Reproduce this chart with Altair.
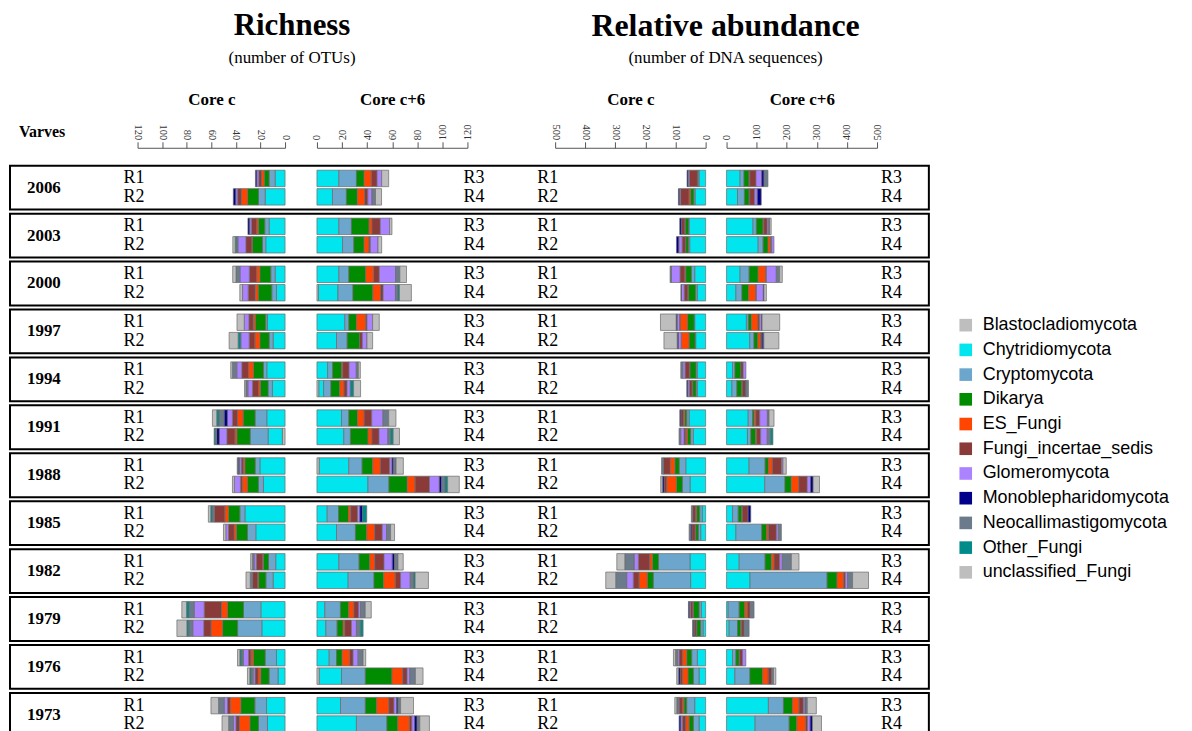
import altair as alt
import pandas as pd

YEARS = ["2006", "2003", "2000", "1997", "1994", "1991", "1988", "1985", "1982", "1979", "1976", "1973"]
CATEGORIES = ["Blastocladiomycota", "Chytridiomycota", "Cryptomycota", "Dikarya", "ES_Fungi",
              "Fungi_incertae_sedis", "Glomeromycota", "Monoblepharidomycota",
              "Neocallimastigomycota", "Other_Fungi", "unclassified_Fungi"]
COLORS = ["#BEBEBE", "#00E5EE", "#6CA6CD", "#008B00", "#FF4500", "#8B3A3A",
          "#AB82FF", "#00008B", "#6C7B8B", "#008B8B", "#BEBEBE"]

# rows: (year, replicate) in YEARS order, two replicates each; columns follow CATEGORIES
RICH_C = [
    [0, 8.1, 4.9, 4.0, 2.2, 2.2, 1.6, 1.1, 0, 0, 0],
    [0, 16.2, 5.4, 8.9, 5.1, 3.0, 1.5, 2.0, 0, 0, 0],
    [0, 13.0, 3.5, 5.1, 1.5, 4.3, 1.4, 1.4, 0, 0, 0],
    [0, 15.7, 2.7, 8.1, 0.5, 4.9, 6.5, 0, 1.0, 1.2, 1.9],
    [0, 8.1, 3.5, 8.9, 2.7, 5.9, 7.6, 0, 3.2, 0, 2.7],
    [0, 7.0, 3.8, 11.1, 2.4, 5.7, 4.6, 0, 0, 0, 2.2],
    [0, 14.3, 1.4, 8.6, 1.6, 3.5, 3.8, 0, 0, 0, 5.9],
    [0, 9.7, 3.2, 7.6, 4.1, 4.6, 6.8, 0, 0, 2.2, 7.3],
    [0, 14.9, 2.7, 8.1, 4.1, 5.4, 4.1, 0, 3.5, 0, 1.4],
    [0, 10.3, 3.5, 6.2, 1.6, 4.9, 3.8, 0, 1.6, 0, 1.1],
    [0, 14.9, 9.5, 9.7, 4.6, 4.1, 4.1, 2.7, 4.1, 1.9, 3.5],
    [2.2, 11.6, 14.6, 10.8, 1.6, 6.5, 6.2, 2.2, 1.0, 1.0, 0],
    [0, 20.5, 3.8, 8.4, 1.4, 1.6, 1.6, 0.8, 0.8, 0, 0],
    [0, 17.6, 4.1, 8.9, 4.3, 1.4, 4.9, 0, 0, 0, 1.6],
    [0, 32.7, 4.1, 9.2, 3.0, 8.6, 0, 0, 1.5, 1.4, 1.9],
    [0, 23.8, 6.8, 8.9, 1.9, 4.6, 2.2, 0, 0, 0, 1.9],
    [0, 7.6, 5.9, 4.1, 0.8, 4.9, 1.9, 0, 1.4, 0, 1.4],
    [0, 9.7, 5.9, 5.9, 0.8, 4.1, 0, 0, 1.9, 0, 3.5],
    [0, 19.7, 14.1, 13.0, 4.9, 14.1, 8.1, 0, 4.1, 2.2, 3.8],
    [0, 18.9, 19.7, 12.2, 9.5, 5.9, 8.9, 0, 3.2, 1.6, 8.1],
    [0, 7.0, 9.2, 9.7, 1.9, 1.9, 4.3, 0, 1.4, 1.4, 1.9],
    [0, 5.7, 7.3, 6.8, 2.2, 2.4, 1.6, 0, 1.6, 1.1, 1.9],
    [0, 15.1, 9.5, 11.4, 8.6, 2.2, 2.7, 0, 4.6, 0, 6.2],
    [0, 14.3, 7.3, 7.0, 8.6, 2.7, 2.2, 0, 3.8, 0, 5.4],
]
RICH_C6 = [
    [0, 17.5, 14.0, 6.1, 5.8, 4.5, 3.7, 0, 0, 0, 5.6],
    [0, 12.4, 11.1, 8.7, 5.8, 2.6, 3.2, 0, 2.9, 0, 4.8],
    [0, 17.5, 10.0, 14.0, 2.4, 6.6, 7.4, 0, 0, 0, 1.9],
    [0, 20.4, 9.0, 8.2, 4.0, 1.0, 6.1, 0, 0, 0, 2.9],
    [0, 17.5, 7.9, 13.5, 6.3, 4.5, 13.0, 0, 3.4, 0, 5.3],
    [1.2, 15.6, 11.9, 15.9, 6.1, 2.1, 9.8, 0, 2.0, 1.2, 9.5],
    [0, 22.2, 3.2, 6.1, 7.4, 1.0, 4.5, 0, 0, 0, 5.3],
    [0, 15.6, 8.5, 10.0, 0, 2.1, 3.7, 0, 0, 0, 4.5],
    [0, 8.5, 4.0, 7.1, 1.0, 5.0, 5.8, 0, 1.6, 0, 1.6],
    [1.6, 3.7, 5.8, 7.1, 3.4, 2.4, 2.6, 0, 0, 2.6, 5.6],
    [0, 19.6, 5.8, 6.9, 5.3, 6.1, 9.0, 0, 4.5, 0, 5.8],
    [0, 21.4, 5.3, 14.0, 3.2, 5.6, 7.1, 0, 2.1, 2.1, 5.0],
    [1.9, 23.5, 10.6, 8.5, 6.1, 7.4, 1.9, 1.3, 1.9, 0, 5.8],
    [0, 40.7, 16.7, 14.6, 6.3, 11.4, 7.9, 1.9, 2.6, 2.1, 9.3],
    [0, 8.2, 9.0, 7.9, 1.9, 5.3, 1.9, 2.1, 0, 3.4, 0],
    [0, 15.6, 15.1, 9.0, 6.3, 6.1, 3.4, 0, 3.2, 0, 3.2],
    [0, 17.5, 16.1, 8.5, 4.0, 7.4, 6.6, 1.9, 2.6, 0, 4.2],
    [0, 24.9, 20.6, 7.7, 9.3, 4.2, 7.7, 0, 2.6, 1.3, 10.6],
    [0, 6.3, 12.4, 6.6, 4.2, 3.7, 1.6, 0, 3.7, 0, 4.8],
    [0, 7.1, 9.0, 4.8, 1.3, 5.3, 4.0, 0, 3.2, 2.1, 0],
    [0, 9.8, 5.8, 4.5, 6.1, 2.6, 4.0, 0, 4.0, 0, 2.1],
    [1.9, 17.7, 19.0, 21.2, 8.7, 3.4, 2.1, 0, 4.5, 0, 6.1],
    [0, 18.8, 19.8, 9.0, 9.8, 4.0, 2.1, 1.1, 2.1, 0, 10.3],
    [0, 31.5, 24.3, 8.7, 9.3, 1.9, 2.1, 2.1, 2.1, 0, 7.7],
]
ABUND_C = [
    [0, 22, 3.3, 2.2, 0, 26.5, 4.4, 3.3, 0, 0, 0],
    [0, 35, 4, 11, 5.5, 27.6, 4, 3.3, 0, 0, 0],
    [0, 55, 2, 11, 1.5, 11, 0, 5.5, 0, 0, 0],
    [0, 53, 4.4, 8.8, 1, 11, 11, 7.7, 0, 0, 0],
    [0, 36.4, 11, 18.8, 3.3, 15.5, 28.7, 0, 4.4, 0, 0],
    [0, 27.6, 5.5, 24.3, 2, 12, 8.8, 2, 0, 0, 0],
    [0, 36.4, 2, 22, 24.3, 2, 8, 3.3, 0, 0, 52],
    [0, 33, 2, 20, 26.5, 0, 9, 4, 0, 0, 44],
    [0, 27.6, 4.4, 20, 2, 14.3, 7.7, 0, 6.6, 0, 0],
    [0, 27.6, 4.4, 11, 2, 8.8, 5.5, 3.3, 0, 0, 0],
    [0, 55, 7.7, 6.6, 4.4, 8.8, 0, 3.3, 0, 0, 0],
    [0, 41, 8.8, 11, 5.5, 5.5, 11, 0, 5.5, 0, 0],
    [0, 66, 22, 14.3, 15.5, 22, 0, 0, 6.6, 0, 0],
    [0, 52, 25.4, 20, 32, 8.8, 0, 5.5, 0, 0, 5.5],
    [0, 11, 8.8, 10, 3.3, 10, 0, 0, 4.4, 0, 0],
    [0, 16.5, 7.7, 8.8, 2, 11, 0, 4.4, 4.4, 0, 0],
    [0, 52, 105, 20, 8.8, 37.5, 14.3, 0, 31, 0, 26.5],
    [0, 50, 124, 20, 27.6, 18.8, 22, 0, 36.4, 0, 33],
    [0, 14.3, 7.7, 18.8, 2, 7.7, 3.3, 3.3, 0, 0, 0],
    [0, 8.8, 7.7, 13, 2, 6.6, 0, 3.3, 2, 0, 0],
    [0, 27.6, 18.8, 16.5, 14.3, 11, 5.5, 0, 6.6, 0, 6.6],
    [0, 22, 18.8, 17.7, 18.8, 7.7, 0, 5.5, 0, 0, 5.5],
    [0, 36.4, 26.5, 8.8, 5.5, 11, 3.3, 0, 4.4, 0, 6.6],
    [0, 22, 18.8, 14.3, 11, 11, 5.5, 5.5, 0, 0, 0],
]
ABUND_C6 = [
    [0, 45, 13, 16.5, 3.3, 20, 19, 7.7, 13, 0, 0],
    [0, 36.4, 23, 15.5, 2, 16.5, 8.8, 13, 0, 0, 0],
    [0, 88, 11, 22, 3.3, 11, 5.5, 2, 0, 0, 5.5],
    [0, 105, 16.5, 16.5, 8.8, 3, 7.7, 0, 0, 0, 0],
    [0, 45, 30, 30, 25.4, 2, 33, 0, 11, 0, 8.8],
    [0, 31, 20, 22, 24.3, 2, 23, 2, 0, 0, 8],
    [0, 66, 6.6, 10, 22, 5.5, 6, 2, 0, 0, 58.5],
    [0, 77, 14, 13, 8.8, 5.5, 0, 5.5, 0, 0, 50],
    [0, 20, 7.7, 20, 0, 7.7, 8.8, 0, 0, 0, 0],
    [0, 17.7, 16.5, 16.5, 2, 10, 0, 2, 8, 0, 0],
    [0, 72, 14.3, 5.5, 5.5, 13, 25.4, 0, 5.5, 0, 16.5],
    [0, 69.5, 11, 16.5, 3.3, 13, 22, 0, 11, 7.7, 0],
    [0, 75, 53, 11, 13, 31, 4.4, 0, 0, 0, 11],
    [0, 127, 67, 21, 25.4, 27.6, 11, 8.8, 0, 0, 21],
    [0, 20, 18.8, 12, 2, 18.8, 0, 8.8, 0, 0, 0],
    [0, 31, 86, 16.5, 5.5, 26.5, 6.6, 0, 10, 0, 0],
    [0, 42, 86, 21, 8.8, 18.8, 8.8, 0, 30, 0, 25.4],
    [0, 78, 256, 33, 22, 5.5, 7.7, 0, 16.5, 0, 53],
    [0, 5.5, 36.4, 18.8, 8.8, 8.8, 0, 0, 13, 0, 0],
    [0, 8.8, 27.6, 11, 3.3, 7.7, 0, 0, 16.5, 0, 0],
    [0, 20, 11, 11, 2, 9, 11, 0, 0, 0, 0],
    [0, 27.6, 50, 42, 18.8, 11, 0, 0, 6.6, 0, 7.7],
    [0, 139, 50, 30, 22, 14.3, 5.5, 2, 5.5, 0, 30],
    [0, 95, 113, 25.4, 30, 5.5, 8.8, 7.7, 0, 0, 30],
]
RICH_TICKS = [0, 20, 40, 60, 80, 100, 120]
ABUND_TICKS = [0, 100, 200, 300, 400, 500]
LEFT_REPS = ["R1", "R2"]
RIGHT_REPS = ["R3", "R4"]

SERIF = "Liberation Serif"
SANS = "Liberation Sans"


def to_long(rows):
    recs = []
    for i, row in enumerate(rows):
        for ci, (cat, v) in enumerate(zip(CATEGORIES, row)):
            if v > 0:
                recs.append({"year": YEARS[i // 2], "rep": str(i % 2 + 1), "cat": cat, "ci": ci, "v": v})
    return pd.DataFrame(recs)


def rep_frame(labels):
    return pd.DataFrame([{"year": y, "rep": str(k + 1), "lab": labels[k]} for y in YEARS for k in range(2)])


y_enc = alt.Y("year:N", scale=alt.Scale(domain=YEARS, range=[18, 591], paddingInner=0.085, paddingOuter=0), axis=None)
yoff_enc = alt.YOffset("rep:N", scale=alt.Scale(domain=["1", "2"], paddingInner=0.108, paddingOuter=0.243))
color_enc = alt.Color(
    "cat:N",
    scale=alt.Scale(domain=CATEGORIES, range=COLORS),
    title=None,
    legend=alt.Legend(orient="none", legendX=952, legendY=169, symbolType="square", symbolSize=160,
                      symbolStrokeWidth=0, labelFont=SANS, labelFontSize=18, labelColor="#000",
                      labelLimit=400, rowPadding=6.8, labelOffset=8, padding=0),
)


def bar_layer(rows, dmax, rng, ticks, title, angle):
    return alt.Chart(to_long(rows)).mark_bar(stroke="#6a6a6a", strokeWidth=0.7).encode(
        x=alt.X("v:Q", stack="zero",
                scale=alt.Scale(domain=[0, dmax], range=rng, nice=False),
                axis=alt.Axis(orient="top", values=ticks, title=title, labelAngle=angle,
                              labelFont=SERIF, labelFontSize=10.5, labelColor="#333", labelPadding=2,
                              tickSize=6, tickColor="#555", domainColor="#555", grid=False,
                              titleFont=SERIF, titleFontSize=17, titleFontWeight="bold",
                              titleColor="#000", titlePadding=16)),
        y=y_enc, yOffset=yoff_enc, color=color_enc, order=alt.Order("ci:Q"),
    )


rc = bar_layer(RICH_C, 120, [278, 130], RICH_TICKS, "Core c", 90)
rr = bar_layer(RICH_C6, 120, [310, 461], RICH_TICKS, "Core c+6", 270)
ac = bar_layer(ABUND_C, 500, [700, 549], ABUND_TICKS, "Core c", 90)
ar = bar_layer(ABUND_C6, 500, [721, 872], ABUND_TICKS, "Core c+6", 270)

year_df = pd.DataFrame({"year": YEARS})
boxes = alt.Chart(year_df).mark_rect(fillOpacity=0, stroke="#000", strokeWidth=2).encode(
    y=y_enc, x=alt.value(2), x2=alt.value(924))
year_text = alt.Chart(year_df).mark_text(font=SERIF, fontWeight="bold", fontSize=17).encode(
    y=y_enc, x=alt.value(36), text="year:N")


def rep_text(labels, xpos):
    return alt.Chart(rep_frame(labels)).mark_text(font=SERIF, fontSize=18, align="left").encode(
        y=y_enc, yOffset=yoff_enc, x=alt.value(xpos), text="lab:N")


def fixed_text(txt, xpos, ypos, size, weight="normal", align="center"):
    return alt.Chart(year_df).transform_filter("datum.year == '2006'").mark_text(
        text=txt, font=SERIF, fontSize=size, fontWeight=weight, align=align, baseline="middle"
    ).encode(x=alt.value(xpos), y=alt.value(ypos))


chart = alt.layer(
    boxes, rc, rr, ac, ar, year_text,
    rep_text(LEFT_REPS, 116), rep_text(RIGHT_REPS, 457),
    rep_text(LEFT_REPS, 531), rep_text(RIGHT_REPS, 876),
    fixed_text("Richness", 285, -122, 31, "bold"),
    fixed_text("(number of OTUs)", 285, -90, 17),
    fixed_text("Relative abundance", 720, -122, 32, "bold"),
    fixed_text("(number of DNA sequences)", 720, -90, 17),
    fixed_text("Varves", 11, -16, 16, "bold", "left"),
).resolve_scale(x="independent").properties(
    width=1180, height=600,
    autosize=alt.AutoSizeParams(type="none"),
    padding={"left": 0, "top": 139, "right": 0, "bottom": 0},
).configure_view(strokeWidth=0)

chart.save("out.html", embed_options={"renderer": "svg", "actions": False})
